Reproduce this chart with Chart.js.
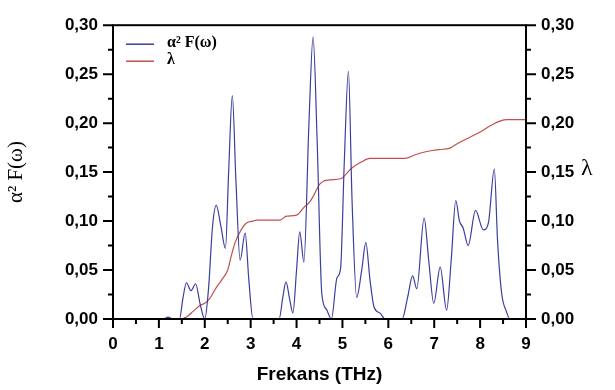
<!DOCTYPE html>
<html>
<head>
<meta charset="utf-8">
<script src="https://cdn.jsdelivr.net/npm/chart.js@4.4.1/dist/chart.umd.min.js"></script>
<style>
  html, body { margin: 0; padding: 0; background: #fff; }
  #wrap { width: 615px; height: 390px; }
</style>
</head>
<body>
<div id="wrap"><canvas id="chart" width="615" height="390"></canvas></div>
<script>
// alpha^2 F(w) spectral function
const freqA = [0, 1.1, 1.2, 1.3, 1.45, 1.52, 1.6, 1.7, 1.8, 1.9, 2.0, 2.08, 2.17, 2.25, 2.35, 2.45, 2.52, 2.6, 2.68, 2.77, 2.88, 2.96, 3.05,
  3.62, 3.7, 3.77, 3.85, 3.92, 4.0, 4.07, 4.16, 4.27, 4.36, 4.45, 4.55, 4.65, 4.76, 4.88, 4.96, 5.04, 5.13, 5.21, 5.31, 5.42, 5.51, 5.6, 5.69, 5.82, 5.93,
  6.3, 6.42, 6.53, 6.62, 6.78, 6.88, 6.99, 7.13, 7.27, 7.37, 7.47, 7.55, 7.63, 7.74, 7.9, 8.07, 8.18, 8.31, 8.38, 8.47, 8.57, 8.65, 9];
const alphaF = [0, 0, 0.002, 0, 0, 0.02, 0.037, 0.029, 0.036, 0.015, 0, 0.03, 0.095, 0.116, 0.095, 0.072, 0.15, 0.228, 0.14, 0.06, 0.088, 0.04, 0,
  0, 0.022, 0.038, 0.02, 0.006, 0.05, 0.089, 0.058, 0.2, 0.288, 0.18, 0.026, 0.01, 0, 0.042, 0.052, 0.16, 0.253, 0.12, 0.022, 0.05, 0.078, 0.04, 0.012, 0.006, 0,
  0, 0.022, 0.044, 0.031, 0.103, 0.06, 0.016, 0.053, 0.009, 0.06, 0.121, 0.1, 0.093, 0.075, 0.111, 0.091, 0.098, 0.153, 0.08, 0.026, 0.008, 0, 0];

// cumulative lambda
const freqL = [0, 1.45, 1.6, 1.75, 1.9, 2.0, 2.11, 2.25, 2.37, 2.5, 2.58, 2.66, 2.78, 2.91, 3.05, 3.13, 3.64, 3.78, 4.0, 4.18, 4.26, 4.36, 4.51, 4.6, 4.73, 4.98,
  5.08, 5.2, 5.4, 5.6, 6.36, 6.6, 6.84, 7.1, 7.34, 7.5, 7.71, 8.0, 8.25, 8.43, 8.6, 9];
const lambda = [0, 0, 0.002, 0.008, 0.014, 0.016, 0.021, 0.032, 0.04, 0.05, 0.065, 0.078, 0.09, 0.098, 0.1, 0.101, 0.101, 0.105, 0.106, 0.115, 0.118, 0.125, 0.138, 0.141, 0.142, 0.1435,
  0.148, 0.154, 0.16, 0.164, 0.164, 0.168, 0.171, 0.173, 0.1745, 0.179, 0.184, 0.191, 0.198, 0.202, 0.2035, 0.2035];

const seriesNames = ['α² F(ω)', 'λ'];
const xTitle = 'Frekans (THz)';

const BLUE = '#3b3f9c';
const RED = '#c0504d';
const tickFont = { family: 'Liberation Sans, Arial, sans-serif', size: 17, weight: 'bold' };
const fmt = v => v.toFixed(2).replace('.', ',');

// box, minor/major ticks, legend and right title
const decor = {
  id: 'decor',
  afterDraw(chart) {
    const ctx = chart.ctx;
    const a = chart.chartArea;
    const xs = chart.scales.x, yl = chart.scales.y, yr = chart.scales.y2;
    ctx.save();
    ctx.strokeStyle = '#000';
    ctx.lineWidth = 2;
    ctx.strokeRect(a.left, a.top, a.right - a.left, a.bottom - a.top);
    ctx.beginPath();
    for (let i = 0; i <= 18; i++) {
      const px = xs.getPixelForValue(i * 0.5);
      const len = i % 2 === 0 ? 9 : 5;
      ctx.moveTo(px, a.bottom);
      ctx.lineTo(px, a.bottom + len);
    }
    for (let i = 0; i <= 12; i++) {
      const py = yl.getPixelForValue(i * 0.025);
      const len = i % 2 === 0 ? 10 : 5;
      ctx.moveTo(a.left, py);
      ctx.lineTo(a.left - len, py);
      const pr = yr.getPixelForValue(i * 0.025);
      ctx.moveTo(a.right, pr);
      ctx.lineTo(a.right + len, pr);
    }
    ctx.stroke();

    // legend
    ctx.font = 'bold 16px "Liberation Serif", "Times New Roman", serif';
    ctx.textBaseline = 'middle';
    ctx.textAlign = 'left';
    chart.data.datasets.forEach((ds, i) => {
      const y = a.top + 19 + i * 17;
      ctx.strokeStyle = ds.borderColor;
      ctx.lineWidth = 1.5;
      ctx.beginPath();
      ctx.moveTo(a.left + 13, y);
      ctx.lineTo(a.left + 41, y);
      ctx.stroke();
      ctx.fillStyle = '#000';
      ctx.fillText(ds.label, a.left + 54, y - 1);
    });

    // right axis title
    ctx.font = '24px "Liberation Serif", "Times New Roman", serif';
    ctx.fillText('λ', a.right + 55, yr.getPixelForValue(0.15) - 3);
    ctx.restore();
  }
};

new Chart(document.getElementById('chart'), {
  type: 'line',
  data: {
    datasets: [
      {
        label: seriesNames[0],
        data: freqA.map((x, i) => ({ x: x, y: alphaF[i] })),
        borderColor: BLUE,
        borderWidth: 1.2,
        pointRadius: 0,
        cubicInterpolationMode: 'monotone',
        yAxisID: 'y'
      },
      {
        label: seriesNames[1],
        data: freqL.map((x, i) => ({ x: x, y: lambda[i] })),
        borderColor: RED,
        borderWidth: 1.2,
        pointRadius: 0,
        cubicInterpolationMode: 'monotone',
        yAxisID: 'y2'
      }
    ]
  },
  options: {
    responsive: false,
    animation: false,
    layout: { padding: { top: 16, right: 0, left: 0, bottom: 0 } },
    plugins: { legend: { display: false }, tooltip: { enabled: false } },
    scales: {
      x: {
        type: 'linear', min: 0, max: 9,
        grid: { display: false, drawTicks: false },
        border: { display: false },
        ticks: { stepSize: 1, padding: 15, color: '#000', font: tickFont, maxRotation: 0 },
        title: { display: true, text: xTitle, color: '#000', padding: { top: 6 },
          font: { family: 'Liberation Sans, Arial, sans-serif', size: 19, weight: 'bold' } },
        afterFit(s) { s.height = 71; }
      },
      y: {
        position: 'left', min: 0, max: 0.30,
        grid: { display: false, drawTicks: false },
        border: { display: false },
        ticks: { stepSize: 0.05, padding: 15, color: '#000', font: tickFont, callback: v => fmt(v) },
        title: { display: true, text: 'α² F(ω)', color: '#000', padding: { bottom: 12 },
          font: { family: 'Liberation Serif, Times New Roman, serif', size: 21 } },
        afterFit(s) { s.width = 113; }
      },
      y2: {
        position: 'right', min: 0, max: 0.30,
        grid: { display: false, drawTicks: false },
        border: { display: false },
        ticks: { stepSize: 0.05, padding: 15, color: '#000', font: tickFont, callback: v => fmt(v) },
        afterFit(s) { s.width = 89; }
      }
    }
  },
  plugins: [decor]
});
</script>
</body>
</html>
